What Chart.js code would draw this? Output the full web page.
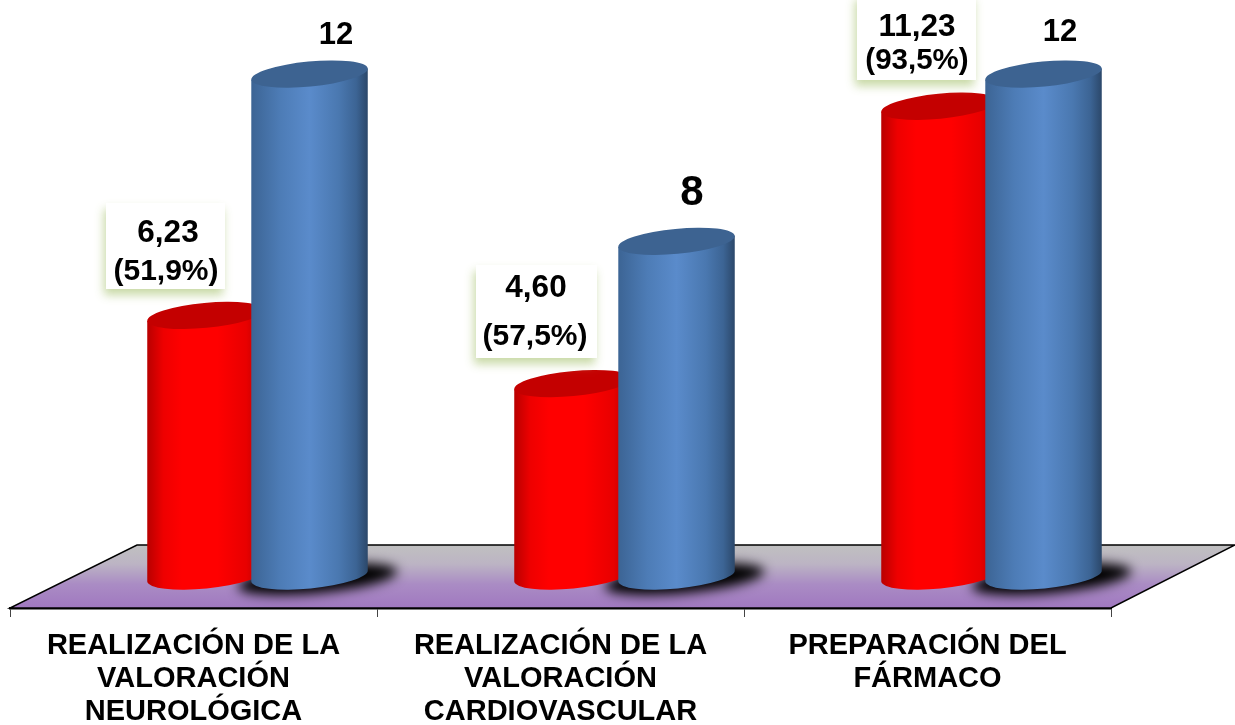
<!DOCTYPE html>
<html>
<head>
<meta charset="utf-8">
<script src="https://cdn.jsdelivr.net/npm/chart.js@4"></script>
<style>html,body{margin:0;padding:0;background:#fff}canvas{display:block}</style>
</head>
<body>
<canvas id="c" width="1235" height="725"></canvas>
<script>
const categories = [
  ["REALIZACIÓN DE LA","VALORACIÓN","NEUROLÓGICA"],
  ["REALIZACIÓN DE LA","VALORACIÓN","CARDIOVASCULAR"],
  ["PREPARACIÓN DEL","FÁRMACO"]
];
const realizado = [6.23, 4.60, 11.23];
const esperado = [12, 8, 12];
const labelRealizado = [["6,23","(51,9%)"],["4,60","(57,5%)"],["11,23","(93,5%)"]];
const labelEsperado = ["12","8","12"];

// styling / layout constants
const Y_MIN = -0.765, Y_MAX = 13.77;
const DEPTH_X = 64, CYL_W = 117, CYL_RY = 12.5, TILT = -5.5 * Math.PI / 180;
const BOXES = [
  {x:106,y:203,w:119,h:86,cy:[233,272],cx:[168,166],f:[31.5,30]},
  {x:476,y:265,w:121,h:93,cy:[288,337],cx:[536,535],f:[31.5,30]},
  {x:857,y:-6,w:119,h:86,cy:[27,61],cx:[917,917],f:[31.5,29.5]}
];
const TOPS = [{cx:336,cy:35,f:31},{cx:692,cy:193,f:42},{cx:1060,cy:32,f:31}];

const RED = [[0,'#b80000'],[0.14,'#ee0000'],[0.3,'#ff0000'],[0.6,'#ff0000'],[0.85,'#e80000'],[1,'#b00000']];
const BLUE = [[0,'#3c6494'],[0.25,'#4d7cb6'],[0.5,'#5a8bcb'],[0.75,'#4a78b0'],[0.9,'#3c6494'],[1,'#2b4769']];

function cylinder(ctx, cx, topY, baseY, stops, cap) {
  const rx = CYL_W / 2, dx = rx * Math.cos(TILT), dy = rx * Math.sin(TILT);
  const g = ctx.createLinearGradient(cx - rx, 0, cx + rx, 0);
  stops.forEach(s => g.addColorStop(s[0], s[1]));
  ctx.fillStyle = g;
  ctx.beginPath();
  ctx.moveTo(cx - dx, topY - dy);
  ctx.lineTo(cx - dx, baseY - dy);
  ctx.ellipse(cx, baseY, rx, CYL_RY, TILT, Math.PI, 0, true);
  ctx.lineTo(cx + dx, topY + dy);
  ctx.closePath();
  ctx.fill();
  ctx.fillStyle = cap;
  ctx.beginPath();
  ctx.ellipse(cx, topY, rx, CYL_RY, TILT, 0, Math.PI * 2);
  ctx.fill();
}

const scenePlugin = {
  id: 'scene',
  beforeDatasetsDraw(chart) {
    const {ctx, chartArea: a} = chart;
    const backY = 545;
    ctx.save();
    const g = ctx.createLinearGradient(0, backY, 0, a.bottom);
    g.addColorStop(0, '#c0c0c0');
    g.addColorStop(0.3, '#bcb4c4');
    g.addColorStop(0.62, '#aa8cc4');
    g.addColorStop(1, '#a078c0');
    ctx.fillStyle = g;
    ctx.beginPath();
    ctx.moveTo(a.left, a.bottom);
    ctx.lineTo(a.right, a.bottom);
    ctx.lineTo(1235, backY);
    ctx.lineTo(137, backY);
    ctx.closePath();
    ctx.fill();
    ctx.strokeStyle = '#000';
    ctx.lineWidth = 1.5;
    ctx.stroke();
    ctx.restore();
  },
  afterDatasetsDraw(chart) {
    const {ctx, scales: {y}} = chart;
    const base = y.getPixelForValue(0);
    const redBars = chart.getDatasetMeta(0).data, blueBars = chart.getDatasetMeta(1).data;
    redBars.forEach((r, i) => {
      const b = blueBars[i];
      ctx.save();
      ctx.filter = 'blur(6px)';
      ctx.fillStyle = '#000';
      ctx.beginPath();
      ctx.ellipse(b.x + DEPTH_X + 8, base + 3, 80, 14, TILT, 0, Math.PI * 2);
      ctx.fill();
      ctx.restore();
      cylinder(ctx, r.x + DEPTH_X, r.y, base, RED, '#c40000');
      cylinder(ctx, b.x + DEPTH_X, b.y, base, BLUE, '#3d6391');
    });
    ctx.save();
    ctx.textAlign = 'center';
    ctx.textBaseline = 'middle';
    BOXES.forEach((p, i) => {
      ctx.save();
      ctx.shadowColor = 'rgba(190,210,150,0.85)';
      ctx.shadowBlur = 9;
      ctx.shadowOffsetX = -2;
      ctx.shadowOffsetY = 6;
      ctx.fillStyle = '#fff';
      ctx.fillRect(p.x, p.y, p.w, p.h);
      ctx.restore();
      ctx.fillStyle = '#000';
      labelRealizado[i].forEach((t, k) => {
        ctx.font = 'bold ' + p.f[k] + 'px "Liberation Sans"';
        ctx.fillText(t, p.cx[k], p.cy[k]);
      });
    });
    TOPS.forEach((p, i) => {
      ctx.fillStyle = '#000';
      ctx.font = 'bold ' + p.f + 'px "Liberation Sans"';
      ctx.fillText(labelEsperado[i], p.cx, p.cy);
    });
    ctx.restore();
  }
};

new Chart(document.getElementById('c'), {
  type: 'bar',
  data: {
    labels: categories,
    datasets: [
      {label: 'Realizado', data: realizado, backgroundColor: 'rgba(0,0,0,0)', borderWidth: 0},
      {label: 'Esperado', data: esperado, backgroundColor: 'rgba(0,0,0,0)', borderWidth: 0}
    ]
  },
  options: {
    responsive: false,
    animation: false,
    devicePixelRatio: 1,
    layout: {padding: {left: 10, right: 124, top: 0, bottom: 0}},
    datasets: {bar: {barPercentage: 1, categoryPercentage: 0.567}},
    plugins: {legend: {display: false}, tooltip: {enabled: false}},
    scales: {
      y: {display: false, min: Y_MIN, max: Y_MAX},
      x: {
        afterFit(s) { s.height = 117; },
        border: {display: true, color: '#000', width: 2.5},
        grid: {display: true, drawOnChartArea: false, drawTicks: true, tickLength: 9, tickColor: '#444', tickWidth: 1},
        ticks: {
          color: '#000', maxRotation: 0, minRotation: 0, autoSkip: false, padding: 13,
          font: {family: '"Liberation Sans"', weight: 'bold', size: 29, lineHeight: 1.13}
        }
      }
    }
  },
  plugins: [scenePlugin]
});
</script>
</body>
</html>
